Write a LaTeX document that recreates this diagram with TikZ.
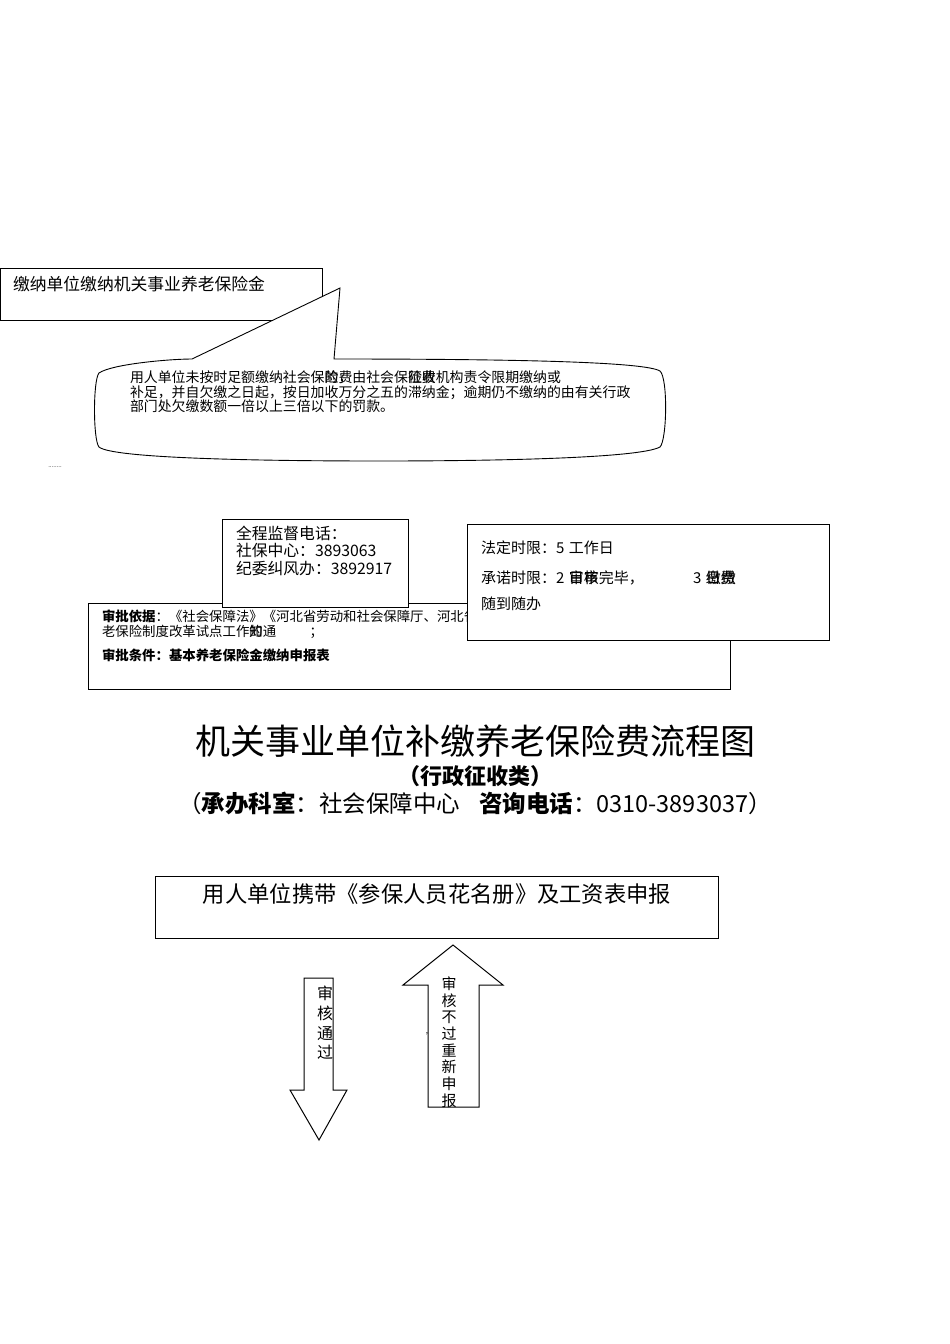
\documentclass[tikz,border=0pt]{standalone}
\usepackage{fontspec}
\setmainfont{Noto Sans CJK SC}
\newfontfamily\cjk{Noto Sans CJK SC}
\newcommand{\fs}[2]{\fontsize{#1}{#2}\selectfont}
\begin{document}
\begin{tikzpicture}[x=1pt,y=-1pt,
  boxline/.style={draw=black,line width=1pt,fill=white},
  txt/.style={inner sep=0pt,outer sep=0pt,text=black}]
\useasboundingbox (0,0) rectangle (950,1344);
\fill[white] (0,0) rectangle (950,1344);

% top box
\draw[boxline] (0,268) rectangle (322,320);
\node[txt,anchor=west,font={\fs{16.8}{20}}] (topt) at (13,284) {缴纳单位缴纳机关事业养老保险金};

% callout
\draw[boxline,line width=0.9pt] (192,359) -- (340,288) -- (334,359)
  .. controls (520,359) and (645,362) .. (660,371)
  .. controls (668,378) and (667,440) .. (660,447)
  .. controls (640,458) and (500,461) .. (380,461)
  .. controls (250,461) and (112,458) .. (99,447)
  .. controls (93,440) and (93,380) .. (99,373)
  .. controls (112,364) and (170,359) .. cycle;
\node[txt,anchor=north west,align=left,font={\fs{13.9}{14.6}}] (callt) at (130,371)
 {用人单位未按时足额缴纳社会保\rlap{险费}的，由社会保\rlap{险费}征收机构责令限期缴纳或\\
  补足，并自欠缴之日起，按日加收万分之五的滞纳金；逾期仍不缴纳的由有关行政\\
  部门处欠缴数额一倍以上三倍以下的罚款。};

\node[txt,font={\fs{6}{7}}] (dots) at (55,467) {........};

% approval box
\draw[boxline] (88,603) rectangle (730,689);
\node[txt,anchor=west,font={\fs{13.4}{15}}] (appr1) at (102,616) {\textbf{审批依据}：《社会保障法》《河北省劳动和社会保障厅、河北省};
\node[txt,anchor=west,font={\fs{13.4}{15}}] (appr2) at (102,632) {老保险制度改革试点工作\rlap{的}知通\hspace{2.5em}；};
\node[txt,anchor=west,font={\fs{13.4}{15}}] (appr3) at (102,655) {\textbf{审批条件：基本养老保险金缴纳申报表}};

% supervision box
\draw[boxline] (222,519) rectangle (408,607);
\node[txt,anchor=north west,align=left,font={\fs{15.8}{17.5}}] (sup) at (236,526)
 {全程监督电话：\\社保中心：3893063\\纪委纠风办：3892917};

% time limit box
\draw[boxline] (467,524) rectangle (829,640);
\node[txt,anchor=west,font={\fs{15}{16}}] (time1) at (481,548) {法定时限：5\hspace{0.3em}工作日};
\node[txt,anchor=west,font={\fs{15}{16}}] (time2) at (481,578) {承诺时限：2\hspace{0.3em}\rlap{日审}审核完毕，};
\node[txt,anchor=west,font={\fs{15}{16}}] (time3) at (693,578) {3\hspace{0.3em}\rlap{日缴}缴费};
\node[txt,anchor=west,font={\fs{15}{16}}] (time4) at (481,604) {随到随办};

% title
\node[txt,font={\fs{35}{38}}] (title) at (475,741) {机关事业单位补缴养老保险费流程图};
\node[txt,font={\fs{22}{24}}] (sub) at (475,776) {\textbf{（行政征收类）}};
\node[txt,font={\fs{23.5}{25}}] (info) at (475,803) {（\textbf{承办科室}：社会保障中心\hspace{0.8em}\textbf{咨询电话}：0310-3893037）};

% submit box
\draw[boxline] (155,876) rectangle (718,938);
\node[txt,font={\fs{22.3}{24}}] (subm) at (437,894) {用人单位携带《参保人员花名册》及工资表申报};

% down arrow
\draw[boxline] (304,978) -- (333,978) -- (333,1090) -- (347,1090) -- (319,1140) -- (290,1090) -- (304,1090) -- cycle;
\node[txt,align=center,font={\fs{16}{19.7}}] (downt) at (325,1023) {审\\核\\通\\过};

% up arrow
\draw[boxline] (453,945) -- (503,985) -- (479,985) -- (479,1107) -- (428,1107) -- (428,985) -- (403,985) -- cycle;
\node[txt,align=center,font={\fs{15}{16.7}}] (upt) at (449,1042) {审\\核\\不\\过\\重\\新\\申\\报};
\node[txt,font={\fs{8}{9}}] (comma) at (427,1034) {,};
\end{tikzpicture}
\end{document}
